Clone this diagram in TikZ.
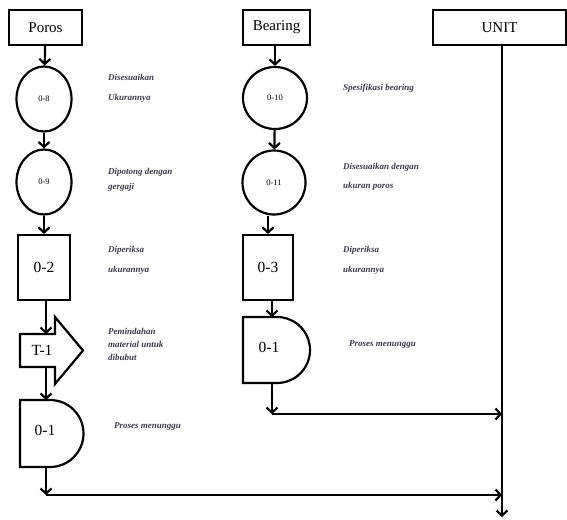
\documentclass[tikz,border=0pt]{standalone}
\usepackage{fontspec}
\setmainfont{Liberation Serif}
\usetikzlibrary{arrows.meta,shapes.geometric}
\definecolor{notegray}{HTML}{3A3A48}
\begin{document}
\begin{tikzpicture}[x=1pt,y=-1pt,line width=2.2pt,
  arr/.style={-{Straight Barb[length=5pt,width=11pt,line width=2.2pt]}},
  headbox/.style={draw,rectangle,minimum height=35pt,inner sep=0pt,
    font=\fontsize{15}{16}\selectfont},
  opcircle/.style={draw,ellipse,inner sep=0pt,font=\fontsize{8.5}{9}\selectfont},
  inspbox/.style={draw,rectangle,minimum height=65pt,inner sep=0pt,
    font=\fontsize{15.5}{16}\selectfont},
  bigtext/.style={inner sep=0pt,font=\fontsize{15.5}{16}\selectfont},
  note/.style={anchor=base west,inner sep=0pt,text=notegray,
    font=\fontsize{9}{10}\selectfont\bfseries\itshape}
]
\useasboundingbox (0,0) rectangle (567,519);

% ---- Poros column ----
\node[headbox,minimum width=73pt] (poros) at (45.5,27.5) {Poros};
\node[opcircle,minimum width=55pt,minimum height=65pt] (c08) at (44,99) {0-8};
\node[opcircle,minimum width=55pt,minimum height=65pt] (c09) at (44,182) {0-9};
\node[inspbox,minimum width=52pt] (i02) at (44,267.5) {0-2};

% transport symbol T-1
\coordinate (t1nw) at (20,334);
\coordinate (t1top) at (46,334);
\coordinate (t1bot) at (46,367);
\draw (t1nw) -- (55,334) -- (55,317) -- (83,350.5) -- (55,384) -- (55,367)
  -- (20,367) -- cycle;
\node[bigtext] (t1) at (42,350.5) {T-1};

% delay symbol 0-1
\coordinate (dAtop) at (46,400);
\coordinate (dAbot) at (46,467);
\draw (20,400) -- (50,400) arc[start angle=-90,end angle=90,radius=33.5]
  -- (20,467) -- cycle;
\node[bigtext] (dA) at (45,430) {0-1};
\coordinate (cornerA) at (46,495);

\draw[arr] (poros) -- (c08);
\draw[arr] (c08) -- (c09);
\draw[arr] (c09) -- (i02);
\draw[arr] (i02.south -| t1top) -- (t1top);
\draw[arr] (t1bot) -- (dAtop);
\draw[arr] (dAbot) -- (cornerA);

% ---- Bearing column ----
\node[headbox,minimum width=67pt] (bearing) at (276.5,27.5) {Bearing};
\node[opcircle,minimum width=64pt,minimum height=62pt] (c010) at (275,98) {0-10};
\node[opcircle,minimum width=63pt,minimum height=64pt] (c011) at (274,182.5) {0-11};
\node[inspbox,minimum width=50pt] (i03) at (268,267.5) {0-3};

\coordinate (dBtop) at (272,317);
\coordinate (dBbot) at (272,383);
\draw (243,317) -- (277,317) arc[start angle=-90,end angle=90,radius=33]
  -- (243,383) -- cycle;
\node[bigtext] (dB) at (269,347) {0-1};
\coordinate (cornerB) at (272,414);

\draw[arr] (bearing.south -| c010.north) -- (c010);
\draw[arr] (c010) -- (c011);
\draw[arr] (c011.south -| i03.north) -- (i03.north);
\draw[arr] (i03.south -| dBtop) -- (dBtop);
\draw[arr] (dBbot) -- (cornerB);

% ---- UNIT ----
\node[headbox,minimum width=133pt] (unit) at (499.5,27.5) {UNIT};
\coordinate (unitend) at (502,517);
\draw[arr] (unit.south -| unitend) -- (unitend);
\draw[arr] (cornerB) -- (cornerB -| unitend);
\draw[arr] (cornerA) -- (cornerA -| unitend);

% ---- notes ----
\node[note] (n1a) at (107,80) {Disesuaikan};
\node[note] (n1b) at (107,100) {Ukurannya};
\node[note] (n2a) at (107,174) {Dipotong dengan};
\node[note] (n2b) at (107,189) {gergaji};
\node[note] (n3a) at (107,252) {Diperiksa};
\node[note] (n3b) at (107,272) {ukurannya};
\node[note] (n4a) at (107,334) {Pemindahan};
\node[note] (n4b) at (107,347) {material untuk};
\node[note] (n4c) at (107,360) {dibubut};
\node[note] (n5) at (113,428) {Proses menunggu};

\node[note] (m1) at (342,90) {Spesifikasi bearing};
\node[note] (m2a) at (342,169) {Disesuaikan dengan};
\node[note] (m2b) at (342,188) {ukuran poros};
\node[note] (m3a) at (342,252) {Diperiksa};
\node[note] (m3b) at (342,272) {ukurannya};
\node[note] (m4) at (348,346) {Proses menunggu};
\end{tikzpicture}
\end{document}
